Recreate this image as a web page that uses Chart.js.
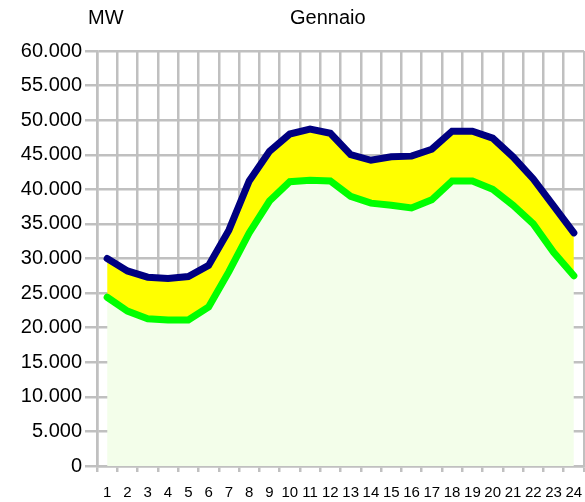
<!DOCTYPE html>
<html>
<head>
<meta charset="utf-8">
<script src="https://cdn.jsdelivr.net/npm/chart.js@4.4.1/dist/chart.umd.min.js"></script>
<style>
    html, body { margin: 0; padding: 0; background: #fff; }
    #wrap { position: relative; width: 585px; height: 502px; font-family: 'Liberation Sans', Arial, sans-serif; }
    #unit { position: absolute; left: 88px; top: 6px; font-size: 20px; color: #000; }
    #title { position: absolute; left: 290px; top: 6px; font-size: 20px; color: #000; }
    canvas { position: absolute; left: 0; top: 0; }
</style>
</head>
<body>
<div id="wrap">
    <canvas id="chart" width="585" height="502"></canvas>
    <div id="unit">MW</div>
    <div id="title">Gennaio</div>
</div>
<script>
const hours = ['1','2','3','4','5','6','7','8','9','10','11','12','13','14','15','16','17','18','19','20','21','22','23','24'];
const maxLoad = [30000, 28200, 27300, 27100, 27400, 29000, 34100, 41200, 45500, 48000, 48700, 48100,
                 45000, 44200, 44700, 44800, 45800, 48400, 48400, 47400, 44700, 41500, 37600, 33700];
const minLoad = [24400, 22400, 21300, 21100, 21100, 23000, 28100, 33700, 38300, 41100, 41300, 41200,
                 39000, 38000, 37700, 37300, 38500, 41200, 41200, 40000, 37700, 35000, 30900, 27500];

const gridColor = '#c0c0c0';

function fmt(v) {
    return String(v).replace(/\B(?=(\d{3})+(?!\d))/g, '.');
}

const ctx = document.getElementById('chart').getContext('2d');
new Chart(ctx, {
    type: 'line',
    data: {
        labels: hours,
        datasets: [
            {
                data: minLoad,
                borderColor: '#00ff00',
                backgroundColor: '#f3feea',
                borderWidth: 7,
                borderCapStyle: 'round',
                pointRadius: 0,
                tension: 0,
                fill: 'origin'
            },
            {
                data: maxLoad,
                borderColor: '#000080',
                backgroundColor: '#ffff00',
                borderWidth: 7,
                borderCapStyle: 'round',
                pointRadius: 0,
                tension: 0,
                fill: '-1'
            }
        ]
    },
    options: {
        responsive: false,
        animation: false,
        layout: { padding: { top: 51, right: 1, left: 0, bottom: 0 } },
        plugins: {
            legend: { display: false },
            tooltip: { enabled: false }
        },
        scales: {
            x: {
                offset: true,
                grid: { offset: true, color: gridColor, lineWidth: 2.5, tickLength: 6 },
                border: { color: gridColor, width: 2.5 },
                ticks: {
                    color: '#000',
                    padding: 12,
                    maxRotation: 0,
                    autoSkip: false,
                    font: { family: "'Liberation Sans', Arial, sans-serif", size: 15 }
                },
                afterFit: s => {
                    s.height = 36;
                    s.paddingLeft = 0;
                    s.paddingRight = 0;
                }
            },
            y: {
                min: 0,
                max: 60000,
                grid: { color: gridColor, lineWidth: 2.5, tickLength: 12 },
                border: { color: gridColor, width: 2.5 },
                ticks: {
                    stepSize: 5000,
                    color: '#000',
                    padding: 3,
                    callback: v => fmt(v),
                    font: { family: "'Liberation Sans', Arial, sans-serif", size: 20 }
                },
                afterFit: s => {
                    s.width = 97;
                    s.paddingTop = 0;
                    s.paddingBottom = 0;
                }
            }
        }
    }
});
</script>
</body>
</html>
